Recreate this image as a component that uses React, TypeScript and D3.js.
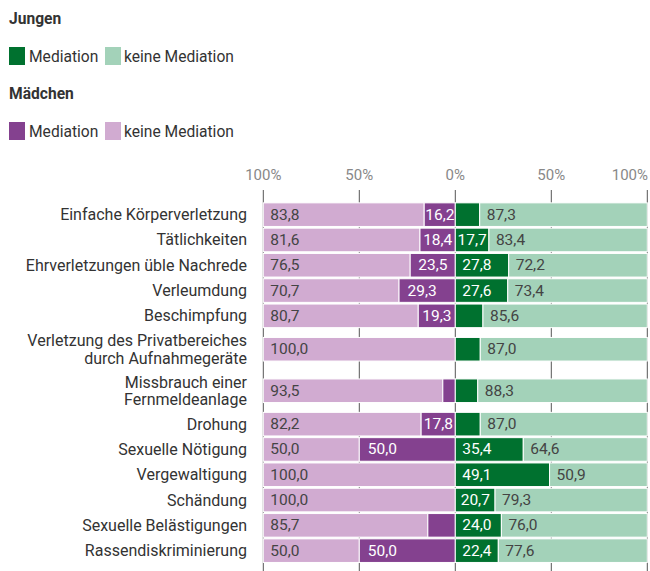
import React from 'react';
import * as d3 from 'd3';

// Daten aus der Vorlage (Anteile in %)
const categories = [
  'Einfache Körperverletzung',
  'Tätlichkeiten',
  'Ehrverletzungen üble Nachrede',
  'Verleumdung',
  'Beschimpfung',
  'Verletzung des Privatbereiches\ndurch Aufnahmegeräte',
  'Missbrauch einer\nFernmeldeanlage',
  'Drohung',
  'Sexuelle Nötigung',
  'Vergewaltigung',
  'Schändung',
  'Sexuelle Belästigungen',
  'Rassendiskriminierung',
];
const girlsMediation = [16.2, 18.4, 23.5, 29.3, 19.3, 0, 6.5, 17.8, 50.0, 0, 0, 14.3, 50.0];
const girlsNoMediation = [83.8, 81.6, 76.5, 70.7, 80.7, 100.0, 93.5, 82.2, 50.0, 100.0, 100.0, 85.7, 50.0];
const boysMediation = [12.7, 17.7, 27.8, 27.6, 14.4, 13.0, 11.7, 13.0, 35.4, 49.1, 20.7, 24.0, 22.4];
const boysNoMediation = [87.3, 83.4, 72.2, 73.4, 85.6, 87.0, 88.3, 87.0, 64.6, 50.9, 79.3, 76.0, 77.6];
const tickValues = [-100, -50, 0, 50, 100];

const colors = {
  boysMed: '#00712f',
  boysNo: '#a3d2b9',
  girlsMed: '#84418f',
  girlsNo: '#d1abd1',
};

const W = 650;
const H = 571;
const FONT = 'Roboto, "Noto Sans", sans-serif';

const locale = d3.formatLocale({ decimal: ',', thousands: '.', grouping: [3], currency: ['', '€'] });
const fmt = locale.format('.1f');

const LABEL_W = 29;
const labelPad = (w: number, pad: number) => Math.min(pad, Math.max(1, (w - LABEL_W) / 2));

export default function App() {
  const x = d3.scaleLinear().domain([-100, 100]).range([263.3, 647.3]);

  const rows = categories.map((c, i) => ({
    label: c,
    lines: c.split('\n'),
    gMed: girlsMediation[i],
    gNo: girlsNoMediation[i],
    bMed: boysMediation[i],
    bNo: boysNoMediation[i],
  }));

  const bands = rows.map((r) => (r.lines.length > 1 ? 41.5 : 25.3));
  const starts = [0, ...Array.from(d3.cumsum(bands))];
  const y0 = 202;
  const barH = 23.6;

  const stackKeys = ['med', 'no'];
  const girlsStack = d3.stack<any>().keys(stackKeys).offset(d3.stackOffsetExpand)(
    rows.map((r) => ({ med: r.gMed, no: r.gNo }))
  );
  const boysStack = d3.stack<any>().keys(stackKeys).offset(d3.stackOffsetExpand)(
    rows.map((r) => ({ med: r.bMed, no: r.bNo }))
  );

  return (
    <svg width={W} height={H} style={{ position: 'absolute', left: 0, top: 0 }} fontFamily={FONT}>
      {/* Legende */}
      <g fill="#333" fontSize={15.6}>
        <text x={9} y={19} fontWeight="bold" dominantBaseline="central">Jungen</text>
        <rect x={9} y={47} width={16} height={18} fill={colors.boysMed} />
        <text x={29} y={56.5} dominantBaseline="central">Mediation</text>
        <rect x={105} y={47} width={16} height={18} fill={colors.boysNo} />
        <text x={124} y={56.5} dominantBaseline="central">keine Mediation</text>
        <text x={9} y={94} fontWeight="bold" dominantBaseline="central">Mädchen</text>
        <rect x={9} y={122} width={16} height={18} fill={colors.girlsMed} />
        <text x={29} y={131.5} dominantBaseline="central">Mediation</text>
        <rect x={105} y={122} width={16} height={18} fill={colors.girlsNo} />
        <text x={124} y={131.5} dominantBaseline="central">keine Mediation</text>
      </g>

      {/* Achse */}
      <g>
        {tickValues.map((t, i) => (
          <g key={t}>
            <line x1={x(t)} x2={x(t)} y1={190} y2={H} stroke="#555" strokeWidth={1} />
            <text
              x={i === tickValues.length - 1 ? 648 : x(t)}
              y={175}
              textAnchor={i === tickValues.length - 1 ? 'end' : 'middle'}
              dominantBaseline="central"
              fill="#888"
              fontSize={15}
            >
              {Math.abs(t)}%
            </text>
          </g>
        ))}
      </g>

      {rows.map((r, i) => {
        const cy = y0 + starts[i] + bands[i] / 2;
        const top = cy - barH / 2;
        const gMedX0 = x(-girlsStack[0][i][1] * 100);
        const gMedX1 = x(-girlsStack[0][i][0] * 100);
        const gNoX0 = x(-girlsStack[1][i][1] * 100);
        const gNoX1 = x(-girlsStack[1][i][0] * 100);
        const bMedX0 = x(boysStack[0][i][0] * 100);
        const bMedX1 = x(boysStack[0][i][1] * 100);
        const bNoX0 = x(boysStack[1][i][0] * 100);
        const bNoX1 = x(boysStack[1][i][1] * 100);
        const segs = [
          { x0: gNoX0, x1: gNoX1, fill: colors.girlsNo, v: r.gNo, light: true, pad: 7 },
          { x0: gMedX0, x1: gMedX1, fill: colors.girlsMed, v: r.gMed, light: false, pad: 8.5 },
          { x0: bMedX0, x1: bMedX1, fill: colors.boysMed, v: r.bMed, light: false, pad: 7 },
          { x0: bNoX0, x1: bNoX1, fill: colors.boysNo, v: r.bNo, light: true, pad: 7 },
        ];
        const lh = 17.5;
        return (
          <g key={r.label}>
            <text x={247} textAnchor="end" fill="#333" fontSize={16}>
              {r.lines.map((l, j) => (
                <tspan key={j} x={247} y={cy + (j - (r.lines.length - 1) / 2) * lh} dominantBaseline="central">
                  {l}
                </tspan>
              ))}
            </text>
            {segs.map((s, k) =>
              s.x1 - s.x0 > 0 ? (
                <rect key={k} x={s.x0} y={top} width={s.x1 - s.x0} height={barH} fill={s.fill} stroke="#fff" strokeWidth={1} />
              ) : null
            )}
            {segs.map((s, k) => {
              const w = s.x1 - s.x0;
              if (w < LABEL_W + 1) return null;
              return (
                <text
                  key={'t' + k}
                  x={s.x0 + labelPad(w, s.pad)}
                  y={cy}
                  dominantBaseline="central"
                  fontSize={15.5}
                  fill={s.light ? '#444' : '#fff'}
                >
                  {fmt(s.v)}
                </text>
              );
            })}
          </g>
        );
      })}
    </svg>
  );
}
